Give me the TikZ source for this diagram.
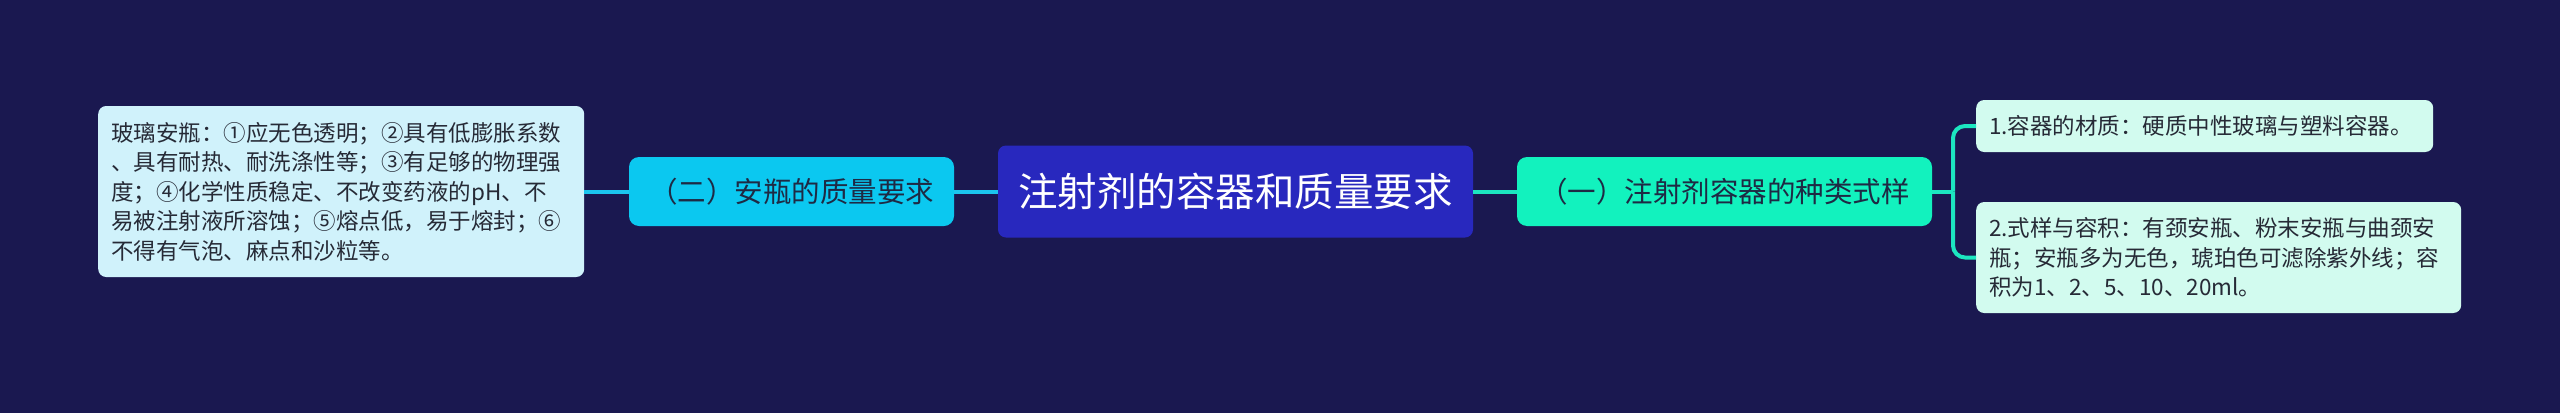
\documentclass[tikz,border=0pt]{standalone}
\usepackage{fontspec}
\newfontfamily\cjk{Noto Sans CJK SC}
\definecolor{bg}{HTML}{1A1850}
\definecolor{rootc}{HTML}{2828BE}
\definecolor{brL}{HTML}{0BC8F0}
\definecolor{brR}{HTML}{12F2BE}
\definecolor{leafL}{HTML}{D0F2FB}
\definecolor{leafR}{HTML}{D2FBEF}
\definecolor{lineL}{HTML}{1BC5EE}
\definecolor{lineR}{HTML}{1CE6C0}
\definecolor{brtext}{HTML}{1E2A44}
\definecolor{leaftext}{HTML}{262A36}
\begin{document}
\begin{tikzpicture}[x=1pt,y=-1pt,
  rootbox/.style={fill=rootc, rounded corners=8pt, text=white, inner sep=0pt,
    font=\cjk\fontsize{39.5}{46}\selectfont},
  branchbox/.style={rounded corners=10pt, text=brtext, inner sep=0pt,
    font=\cjk\fontsize{28.5}{34}\selectfont},
  leafbox/.style={rounded corners=8pt, text=leaftext, inner xsep=13pt, inner ysep=0pt,
    align=left, anchor=west, font=\cjk\fontsize{22.5}{29.5}\selectfont},
  connL/.style={draw=lineL, line width=4pt},
  connR/.style={draw=lineR, line width=4pt, rounded corners=12pt}]
\fill[bg] (0,0) rectangle (2560,413);
\useasboundingbox (0,0) rectangle (2560,413);

\node[rootbox, minimum width=475pt, minimum height=92pt] (root) at (1235.5,191.5) {注射剂的容器和质量要求};

\node[branchbox, fill=brL, minimum width=325pt, minimum height=69pt] (b2) at (791.5,191.5) {（二）安瓶的质量要求};
\node[branchbox, fill=brR, minimum width=415pt, minimum height=69pt] (b1) at (1724.5,191.5) {（一）注射剂容器的种类式样};

\node[leafbox, fill=leafL, text width=460pt, minimum height=171pt] (l1) at (98,191.5)
 {玻璃安瓶：①应无色透明；②具有低膨胀系数\\
 、具有耐热、耐洗涤性等；③有足够的物理强\\
 度；④化学性质稳定、不改变药液的pH、不\\
 易被注射液所溶蚀；⑤熔点低，易于熔封；⑥\\
 不得有气泡、麻点和沙粒等。};

\node[leafbox, fill=leafR, text width=431pt, minimum height=52pt] (r1) at (1976,126)
 {1.容器的材质：硬质中性玻璃与塑料容器。};
\node[leafbox, fill=leafR, text width=459pt, minimum height=111pt] (r2) at (1976,257.5)
 {2.式样与容积：有颈安瓶、粉末安瓶与曲颈安\\
 瓶；安瓶多为无色，琥珀色可滤除紫外线；容\\
 积为1、2、5、10、20ml。};

\coordinate (j) at (1953,191.5);
\draw[connL] (l1.east) -- (b2.west);
\draw[connL] (b2.east) -- (root.west);
\draw[connR] (root.east) -- (b1.west);
\draw[connR] (b1.east) -- (j);
\draw[connR] (j) |- (r1.west);
\draw[connR] (j) |- (r2.west);
\end{tikzpicture}
\end{document}
